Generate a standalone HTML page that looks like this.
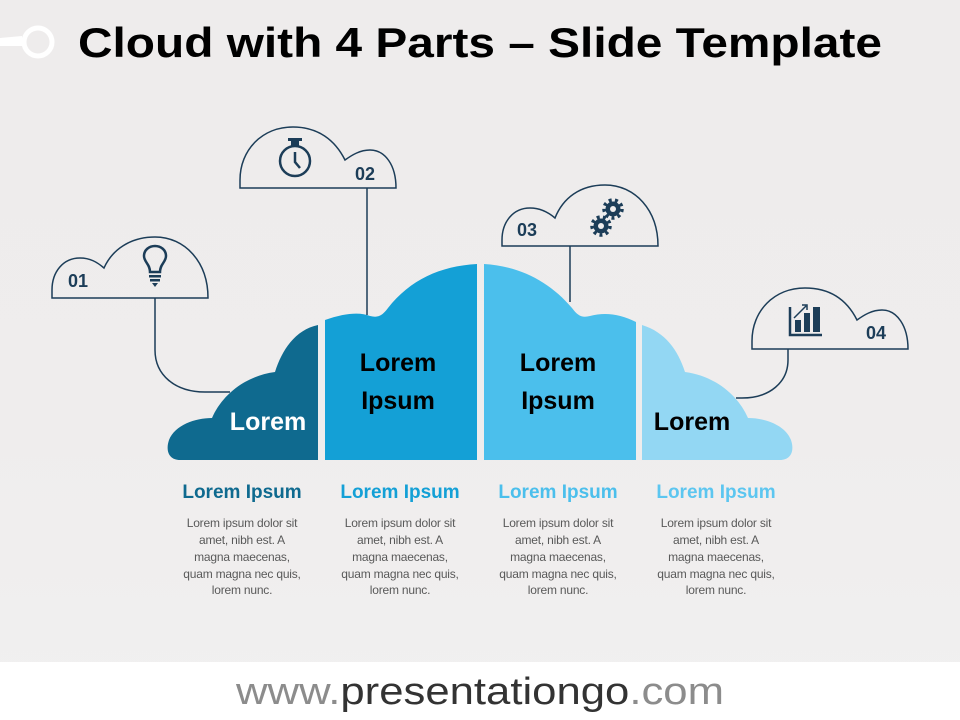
<!DOCTYPE html>
<html><head><meta charset="utf-8"><style>
html,body{margin:0;padding:0;width:960px;height:720px;overflow:hidden}
body{background:linear-gradient(#eeecec,#efeded 60%,#f1f0f0);font-family:"Liberation Sans",sans-serif}
svg{position:absolute;left:0;top:0}
</style></head><body>
<svg width="960" height="720" viewBox="0 0 960 720" xmlns="http://www.w3.org/2000/svg" font-family="Liberation Sans, sans-serif">
<rect x="0" y="662" width="960" height="58" fill="#ffffff"/>
<path d="M0,38 L22,36 L22,46 L0,46 Z" fill="#ffffff"/>
<circle cx="38" cy="42" r="14" fill="none" stroke="#ffffff" stroke-width="5"/>
<text x="78" y="57" font-size="42" font-weight="bold" fill="#000" textLength="804" lengthAdjust="spacingAndGlyphs">Cloud with 4 Parts – Slide Template</text>

<path d="M318,325 C295,330 282,350 275,372 C245,376 222,395 212,418 C195,418 175,425 169,440 C165,452 170,460 180,460 L318,460 Z" fill="#0f6a8f"/>
<path d="M325,320 C345,313 360,312 370,316 C378,318 382,316 388,308 C410,280 440,266 477,264 L477,460 L325,460 Z" fill="#14a0d6"/>
<path d="M484,264 C520,266 550,282 572,308 C578,316 582,318 590,316 C605,312 620,314 636,322 L636,460 L484,460 Z" fill="#4bbfec"/>
<path d="M642,325 C665,332 678,350 685,372 C715,376 738,395 748,418 C765,418 785,425 791,440 C795,452 790,460 780,460 L642,460 Z" fill="#93d7f3"/>

<text x="268" y="430" font-size="25" font-weight="bold" fill="#fff" text-anchor="middle">Lorem</text>
<text x="398" y="371" font-size="25" font-weight="bold" fill="#000" text-anchor="middle">Lorem</text>
<text x="398" y="409" font-size="25" font-weight="bold" fill="#000" text-anchor="middle">Ipsum</text>
<text x="558" y="371" font-size="25" font-weight="bold" fill="#000" text-anchor="middle">Lorem</text>
<text x="558" y="409" font-size="25" font-weight="bold" fill="#000" text-anchor="middle">Ipsum</text>
<text x="692" y="430" font-size="25" font-weight="bold" fill="#000" text-anchor="middle">Lorem</text>

<g fill="none" stroke="#1c3d58" stroke-width="1.5">
<path d="M155,298 L155,350 C155,375 175,392 205,392 L230,392"/>
<path d="M367,188 L367,315"/>
<path d="M570,246 L570,302"/>
<path d="M788,349 L788,360 C788,382 770,398 742,398 L736,398"/>
<path d="M52,298 L208,298 C208,262 185,237 155,237 C130,237 112,250 104,268 C97,262 90,258 80,258 C63,258 52,272 52,290 Z"/>
<path d="M240,188 L396,188 C396,165 385,150 370,150 C360,150 352,155 345,160 C335,140 318,127 293,127 C262,127 240,150 240,180 Z"/>
<path d="M502,246 L658,246 C658,210 635,185 605,185 C580,185 563,198 555,218 C548,212 540,208 530,208 C513,208 502,222 502,240 Z"/>
<path d="M752,349 L908,349 C908,326 897,310 882,310 C872,310 864,315 857,320 C847,300 830,288 805,288 C774,288 752,311 752,341 Z"/>
</g>

<g fill="#1c3d58" font-weight="bold" font-size="18">
<text x="68" y="287">01</text>
<text x="355" y="180">02</text>
<text x="517" y="236">03</text>
<text x="866" y="339">04</text>
</g>
<g fill="none" stroke="#1c3d58" stroke-width="2.5">
<path d="M150,272 C150,264 144,262 144,256 C144,250 149,246 155,246 C161,246 166,250 166,256 C166,262 160,264 160,272 Z"/>
<circle cx="295" cy="161" r="15"/>
<path d="M295,152 L295,162 L300,168"/>
<path d="M790,307 L790,335 L822,335"/>
</g>
<g fill="#1c3d58">
<rect x="149" y="275" width="12" height="2.5"/>
<rect x="150" y="279" width="10" height="2.5"/>
<path d="M152,283 L158,283 L155,287 Z"/>
<rect x="291" y="140" width="8" height="6"/>
<rect x="288" y="138" width="14" height="3"/>
<circle cx="613" cy="209" r="7.5"/>
<circle cx="601" cy="226" r="7.5"/>
<g stroke="#1c3d58" stroke-width="3.5" stroke-dasharray="3 3.3">
<circle cx="613" cy="209" r="9" fill="none"/>
<circle cx="601" cy="226" r="9" fill="none"/>
</g>
<rect x="795" y="320" width="6" height="12"/>
<rect x="804" y="313" width="6" height="19"/>
<rect x="813" y="307" width="7" height="25"/>
</g>
<circle cx="613" cy="209" r="3" fill="#efeded"/>
<circle cx="601" cy="226" r="3" fill="#efeded"/>
<path d="M794,318 L806,306 M802,305 L807,305 L807,310" stroke="#1c3d58" stroke-width="1.5" fill="none"/>

<g font-weight="bold" font-size="19" text-anchor="middle">
<text x="242" y="498" fill="#0f6a8f">Lorem Ipsum</text>
<text x="400" y="498" fill="#14a0d6">Lorem Ipsum</text>
<text x="558" y="498" fill="#4bbfec">Lorem Ipsum</text>
<text x="716" y="498" fill="#5cc6f0">Lorem Ipsum</text>
</g>
<g font-size="12" fill="#595959" text-anchor="middle" letter-spacing="-0.2">
<text x="242" y="527">Lorem ipsum dolor sit</text><text x="242" y="544">amet, nibh est. A</text><text x="242" y="561">magna maecenas,</text><text x="242" y="578">quam magna nec quis,</text><text x="242" y="594">lorem nunc.</text>
<text x="400" y="527">Lorem ipsum dolor sit</text><text x="400" y="544">amet, nibh est. A</text><text x="400" y="561">magna maecenas,</text><text x="400" y="578">quam magna nec quis,</text><text x="400" y="594">lorem nunc.</text>
<text x="558" y="527">Lorem ipsum dolor sit</text><text x="558" y="544">amet, nibh est. A</text><text x="558" y="561">magna maecenas,</text><text x="558" y="578">quam magna nec quis,</text><text x="558" y="594">lorem nunc.</text>
<text x="716" y="527">Lorem ipsum dolor sit</text><text x="716" y="544">amet, nibh est. A</text><text x="716" y="561">magna maecenas,</text><text x="716" y="578">quam magna nec quis,</text><text x="716" y="594">lorem nunc.</text>
</g>
<text x="236" y="704" font-size="38" fill="#8c8c8c" textLength="488" lengthAdjust="spacingAndGlyphs">www.<tspan fill="#333">presentationgo</tspan>.com</text>
</svg>
</body></html>
